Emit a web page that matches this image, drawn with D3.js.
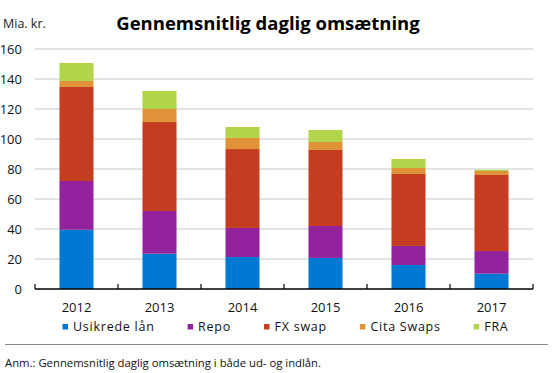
<!DOCTYPE html>
<html><head><meta charset="utf-8">
<script src="https://cdn.jsdelivr.net/npm/d3@7"></script>
<style>body{margin:0;background:#fff}svg{display:block}text{font-family:"Open Sans",sans-serif}</style>
</head><body><svg id="c" width="554" height="373"></svg>
<script>
const years = ["2012","2013","2014","2015","2016","2017"];
const seriesNames = ["Usikrede lån","Repo","FX swap","Cita Swaps","FRA"];
const usikrede = [39.5, 23.5, 21.3, 20.7, 16.0, 10.2];
const repo     = [32.5, 28.5, 19.4, 21.3, 12.7, 15.1];
const fxswap   = [62.7, 59.3, 52.6, 50.7, 48.0, 50.7];
const cita     = [4.0, 8.7, 7.4, 5.3, 4.0, 2.7];
const fra      = [12.0, 12.0, 7.3, 8.0, 6.0, 0.8];
const yTicks = [0,20,40,60,80,100,120,140,160];
const colors = ["#0079d3","#92239c","#c43d20","#e09238","#b2d44a"];

const svg = d3.select("#c");
const x = d3.scaleBand().domain(years).range([35,533]).paddingInner(0.59).paddingOuter(0.295);
const y = d3.scaleLinear().domain([0,160]).range([289,49]);

// gridlines
svg.append("g").selectAll("line").data(yTicks.filter(d=>d>0)).join("line")
  .attr("x1",35).attr("x2",533).attr("y1",d=>y(d)).attr("y2",d=>y(d))
  .attr("stroke","#c8c8c8").attr("stroke-width",1);
// y labels
svg.append("g").selectAll("text").data(yTicks).join("text")
  .attr("x",22).attr("y",d=>y(d)+4.5).attr("text-anchor","end")
  .attr("font-size",13).attr("fill","#111").text(d=>d);

// stacks
const rows = years.map((yr,i)=>({year:yr, s0:usikrede[i], s1:repo[i], s2:fxswap[i], s3:cita[i], s4:fra[i]}));
const stack = d3.stack().keys(["s0","s1","s2","s3","s4"])(rows);
svg.append("g").selectAll("g").data(stack).join("g").attr("fill",(d,i)=>colors[i])
  .selectAll("rect").data(d=>d).join("rect")
  .attr("x",d=>x(d.data.year)).attr("width",x.bandwidth())
  .attr("y",d=>y(d[1])).attr("height",d=>y(d[0])-y(d[1]));

// x axis
const bounds = d3.range(years.length+1).map(i=>35+i*((533-35)/years.length));
svg.append("line").attr("x1",35).attr("x2",533).attr("y1",289).attr("y2",289)
  .attr("stroke","#000").attr("stroke-width",1.6);
svg.append("g").selectAll("line").data(bounds).join("line")
  .attr("x1",d=>d).attr("x2",d=>d).attr("y1",289).attr("y2",284)
  .attr("stroke","#000").attr("stroke-width",1.2);
svg.append("g").selectAll("text").data(years).join("text")
  .attr("x",d=>x(d)+x.bandwidth()/2).attr("y",311.5).attr("text-anchor","middle")
  .attr("font-size",13).attr("fill","#111").text(d=>d);

// legend
let lx = 62.5;
const lg = svg.append("g");
seriesNames.forEach((n,i)=>{
  lg.append("rect").attr("x",lx).attr("y",324).attr("width",5.5).attr("height",5.5).attr("fill",colors[i]);
  const t = lg.append("text").attr("x",lx+10.5).attr("y",331).attr("font-size",12.5)
    .attr("letter-spacing",0.75).attr("fill","#111").text(n);
  lx += 10.5 + t.node().getComputedTextLength() + 33;
});

// title & unit
svg.append("text").attr("x",3).attr("y",27.5).attr("font-size",12.5).attr("fill","#222").text("Mia. kr.");
svg.append("text").attr("x",268).attr("y",30).attr("text-anchor","middle")
  .attr("font-size",18.5).attr("font-weight",700).attr("fill","#000").text("Gennemsnitlig daglig omsætning");

// note
svg.append("line").attr("x1",5).attr("x2",548).attr("y1",344.5).attr("y2",344.5).attr("stroke","#888").attr("stroke-width",1);
svg.append("text").attr("x",5).attr("y",367).attr("font-size",11.3).attr("fill","#111")
  .text("Anm.: Gennemsnitlig daglig omsætning i både ud- og indlån.");
</script></body></html>
